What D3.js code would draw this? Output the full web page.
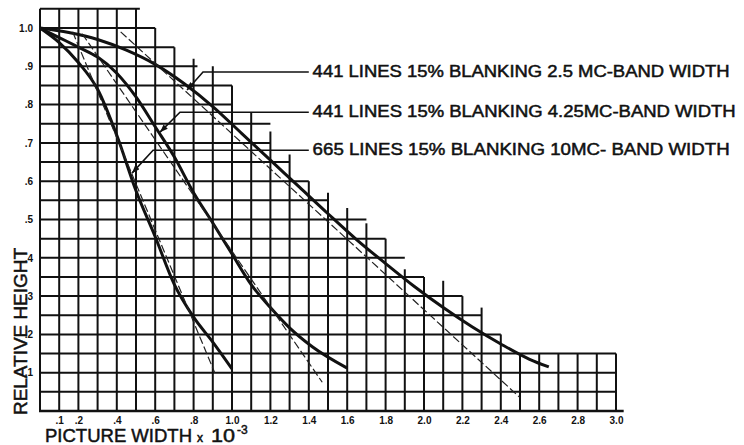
<!DOCTYPE html>
<html lang="en">

<head>
    <meta charset="UTF-8">
    <title>Relative Height vs Picture Width</title>
    <style>
        html,
        body {
            margin: 0;
            background: #fff;
        }

        text {
            font-family: "Liberation Sans", Arial, sans-serif;
            fill: #111;
        }

        .lettering {
            stroke: #111;
            stroke-width: 0.5px;
        }
    </style>
</head>

<body>
    <div class="chart"></div>

    <script src="https://d3js.org/d3.v7.min.js"></script>
    <script>
        // values: picture width (x 10^-3) and relative height
        var curveA_x = [0, 0.15, 0.3, 0.45, 0.6, 0.75, 0.9, 1.05, 1.2, 1.35, 1.5, 1.65, 1.8, 1.95, 2.1, 2.25, 2.4, 2.55, 2.65];
        var curveA_y = [1.0, 0.988, 0.97, 0.942, 0.905, 0.855, 0.795, 0.725, 0.655, 0.585, 0.515, 0.447, 0.385, 0.325, 0.27, 0.22, 0.175, 0.135, 0.115];

        var curveB_x = [0, 0.1, 0.2, 0.3, 0.4, 0.5, 0.6, 0.7, 0.8, 0.9, 1.0, 1.1, 1.2, 1.3, 1.42, 1.6];
        var curveB_y = [1.0, 0.975, 0.95, 0.924, 0.882, 0.82, 0.742, 0.663, 0.57, 0.491, 0.41, 0.33, 0.27, 0.217, 0.167, 0.112];

        var curveC_x = [0, 0.1, 0.2, 0.3, 0.4, 0.5, 0.6, 0.7, 0.8, 0.9, 1.0];
        var curveC_y = [1.0, 0.962, 0.91, 0.84, 0.72, 0.575, 0.455, 0.33, 0.245, 0.18, 0.11];

        // thin straight approximations (start, end)
        var thinA = [[0.42, 0.99], [2.5, 0.035]];
        var thinB = [[0.22, 0.985], [1.47, 0.075]];
        var thinC = [[0.17, 0.99], [0.91, 0.10]];

        var labels = [
            "441 LINES 15% BLANKING 2.5 MC-BAND WIDTH",
            "441 LINES 15% BLANKING 4.25MC-BAND WIDTH",
            "665 LINES 15% BLANKING 10MC- BAND WIDTH"
        ];
        // leader lines: arrow tip on the curve, elbow, then level of the label
        var leaderTip = [[0.766, 0.838], [0.625, 0.728], [0.479, 0.621]];
        var leaderElbow = [[0.849, 0.885], [0.729, 0.78], [0.589, 0.681]];
        var labelStartX = 1.42;

        var xTicks = [0.1, 0.2, 0.4, 0.6, 0.8, 1.0, 1.2, 1.4, 1.6, 1.8, 2.0, 2.2, 2.4, 2.6, 2.8, 3.0];
        var xTickLabels = [".1", ".2", ".4", ".6", ".8", "1.0", "1.2", "1.4", "1.6", "1.8", "2.0", "2.2", "2.4", "2.6", "2.8", "3.0"];
        var yTicks = [0.1, 0.2, 0.3, 0.4, 0.5, 0.6, 0.7, 0.8, 0.9, 1.0];
        var yTickLabels = [".1", ".2", ".3", ".4", ".5", ".6", ".7", ".8", ".9", "1.0"];

        // stepped grid: top of each vertical line (every 0.1) and end of each horizontal line (every 0.05)
        var gridCols = d3.range(0, 31).map(i => i / 10);
        var colTop = [1.05, 1.05, 1.05, 1.05, 1.05, 1.05, 1.0, 0.95, 0.92, 0.9, 0.85, 0.78, 0.73, 0.67, 0.6, 0.57,
            0.53, 0.49, 0.45, 0.37, 0.35, 0.34, 0.3, 0.27, 0.2, 0.15, 0.15, 0.15, 0.15, 0.15, 0.15];
        var gridRows = d3.range(1, 22).map(i => i / 20);
        var rowEnd = [3.0, 3.0, 3.0, 2.4, 2.3, 2.2, 2.0, 1.9, 1.8, 1.7, 1.5, 1.4, 1.3, 1.2, 1.2, 1.0, 1.0, 0.82, 0.7, 0.6, 0.52];

        var width = 744, height = 445;

        var svg = d3.select('.chart')
            .append('svg')
            .attr('width', width)
            .attr('height', height);

        var xScale = d3.scaleLinear().domain([0, 3]).range([40, 616]);
        var yScale = d3.scaleLinear().domain([0, 1]).range([411, 28]);

        svg.append('defs').append('marker')
            .attr('id', 'arrow')
            .attr('viewBox', '0 0 8 6')
            .attr('refX', 8).attr('refY', 3)
            .attr('markerWidth', 8).attr('markerHeight', 6)
            .attr('markerUnits', 'userSpaceOnUse')
            .attr('orient', 'auto')
            .append('path')
            .attr('d', 'M0,0 L8,3 L0,6 Z')
            .attr('fill', '#111');

        // grid
        var grid = svg.append('g').attr('stroke', '#111').attr('stroke-width', 2);
        grid.selectAll('line.v')
            .data(gridCols)
            .join('line')
            .attr('class', 'v')
            .attr('x1', d => xScale(d)).attr('x2', d => xScale(d))
            .attr('y1', yScale(0)).attr('y2', (d, i) => yScale(colTop[i]));
        grid.selectAll('line.h')
            .data(gridRows)
            .join('line')
            .attr('class', 'h')
            .attr('x1', xScale(0)).attr('x2', (d, i) => xScale(rowEnd[i]))
            .attr('y1', d => yScale(d)).attr('y2', d => yScale(d));

        // base line
        svg.append('line')
            .attr('x1', xScale(0) - 1).attr('x2', xScale(3.04))
            .attr('y1', yScale(0)).attr('y2', yScale(0))
            .attr('stroke', '#111').attr('stroke-width', 2.5);

        // axes
        var xAxis = d3.axisBottom(xScale).tickValues(xTicks)
            .tickFormat((d, i) => xTickLabels[i]).tickSize(0).tickPadding(6);
        var gx = svg.append('g').attr('transform', `translate(0, ${yScale(0)})`).call(xAxis);
        gx.select('.domain').remove();
        gx.selectAll('text').attr('font-size', 10).attr('font-weight', 'bold')
            .style('font-family', '"Liberation Sans", Arial, sans-serif');

        var yAxis = d3.axisLeft(yScale).tickValues(yTicks)
            .tickFormat((d, i) => yTickLabels[i]).tickSize(0).tickPadding(7);
        var gy = svg.append('g').attr('transform', `translate(${xScale(0)}, 0)`).call(yAxis);
        gy.select('.domain').remove();
        gy.selectAll('text').attr('font-size', 10).attr('font-weight', 'bold')
            .style('font-family', '"Liberation Sans", Arial, sans-serif');

        // curves
        var line = d3.line()
            .x(d => xScale(d[0]))
            .y(d => yScale(d[1]))
            .curve(d3.curveMonotoneX);

        [[curveA_x, curveA_y], [curveB_x, curveB_y], [curveC_x, curveC_y]].forEach(function (c) {
            svg.append('path')
                .attr('d', line(d3.zip(c[0], c[1])))
                .attr('fill', 'none')
                .attr('stroke', '#111')
                .attr('stroke-width', 3);
        });

        [thinA, thinB, thinC].forEach(function (t) {
            svg.append('path')
                .attr('d', d3.line().x(d => xScale(d[0])).y(d => yScale(d[1]))(t))
                .attr('fill', 'none')
                .attr('stroke', '#222')
                .attr('stroke-width', 1.2)
                .attr('stroke-dasharray', '8,3');
        });

        // labels with leader lines
        labels.forEach(function (txt, i) {
            var ly = leaderElbow[i][1];
            svg.append('path')
                .attr('d', d3.line().x(d => xScale(d[0])).y(d => yScale(d[1]))([[labelStartX - 0.02, ly], leaderElbow[i], leaderTip[i]]))
                .attr('fill', 'none')
                .attr('stroke', '#111')
                .attr('stroke-width', 1.6)
                .attr('marker-end', 'url(#arrow)');

            svg.append('text')
                .attr('class', 'lettering')
                .attr('x', xScale(labelStartX))
                .attr('y', yScale(ly) + 5)
                .attr('font-size', 16.5)
                .attr('textLength', i == 1 ? 423 : 417)
                .attr('lengthAdjust', 'spacingAndGlyphs')
                .text(txt);
        });

        // axis titles
        svg.append('text')
            .attr('class', 'lettering')
            .attr('transform', `translate(27, 415) rotate(-90)`)
            .attr('font-size', 18)
            .attr('textLength', 167)
            .attr('lengthAdjust', 'spacingAndGlyphs')
            .text('RELATIVE HEIGHT');

        var xt = svg.append('text').attr('class', 'lettering').attr('y', 442);
        xt.append('tspan').attr('x', 45).attr('font-size', 19)
            .attr('textLength', 147).attr('lengthAdjust', 'spacingAndGlyphs').text('PICTURE WIDTH');
        xt.append('tspan').attr('x', 197).attr('font-size', 12).text('x');
        xt.append('tspan').attr('x', 211).attr('font-size', 19)
            .attr('textLength', 24).attr('lengthAdjust', 'spacingAndGlyphs').text('10');
        xt.append('tspan').attr('x', 237).attr('dy', -8).attr('font-size', 12).text('-3');
    </script>
</body>

</html>
